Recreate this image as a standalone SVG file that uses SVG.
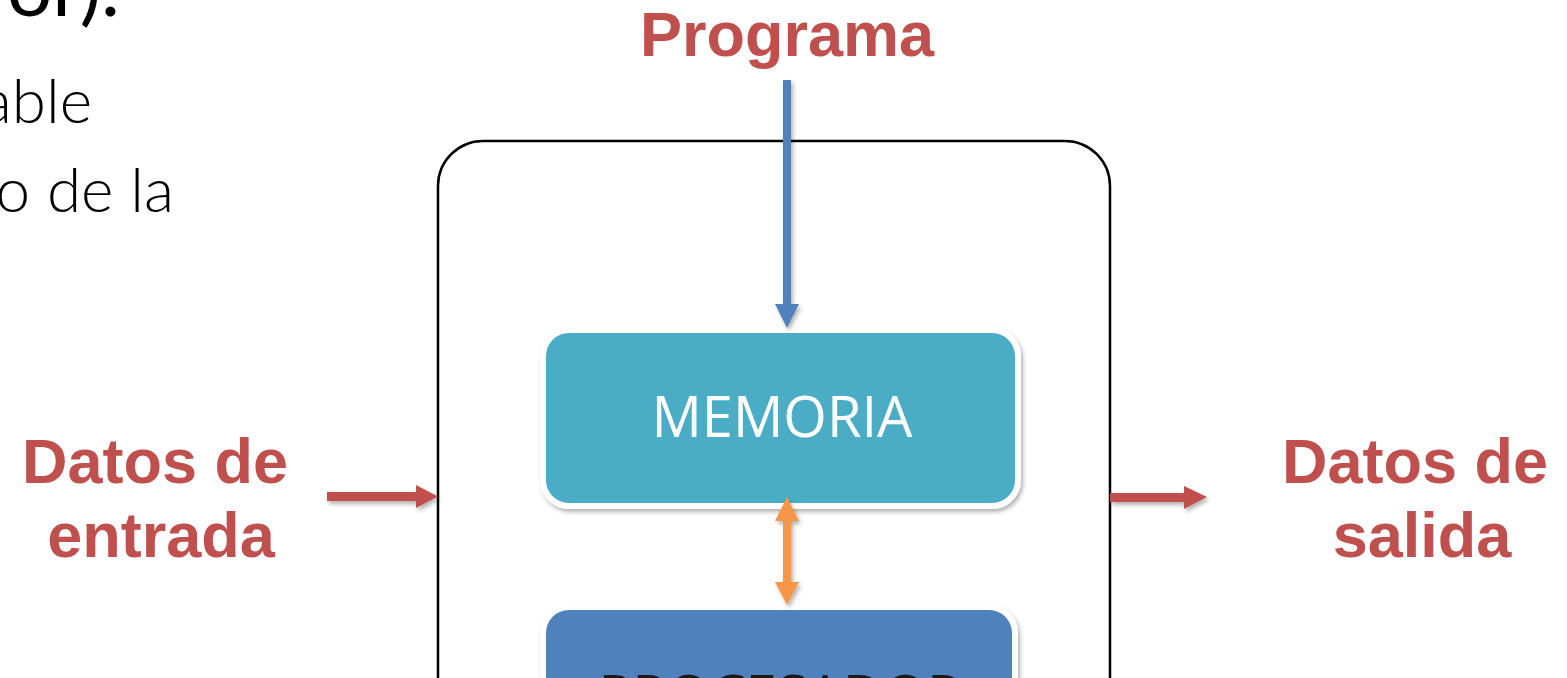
<svg xmlns="http://www.w3.org/2000/svg" width="1567" height="678" viewBox="0 0 1567 678">
<style>
.lbl{font-family:"Liberation Sans",Arial,sans-serif;font-weight:bold;font-size:63px;fill:#C0504D}
.body{font-family:Lato,"Open Sans",sans-serif;font-weight:300;font-size:62px;fill:#000}
.box{font-family:"Open Sans","Liberation Sans",sans-serif;font-size:56px;fill:#fff}
</style>
<defs>
<filter id="sh" x="-20%" y="-20%" width="140%" height="140%">
<feDropShadow dx="2" dy="3" stdDeviation="2" flood-color="#000" flood-opacity="0.3"/>
</filter>
</defs>
<rect width="1567" height="678" fill="#fff"/>
<g id="bg-text">
<text class="body" x="120" y="16" text-anchor="end" style="font-weight:400;font-size:80px">or).</text>
<text class="body" x="92" y="123" text-anchor="end">able</text>
<text class="body" x="174" y="212" text-anchor="end">o de la</text>
</g>
<g id="computer">
<rect x="438" y="141" width="672" height="620" rx="45" fill="none" stroke="#000" stroke-width="2.5"/>
</g>
<g id="memoria">
<rect x="543" y="330" width="475" height="176" rx="26" fill="#4BACC6" stroke="#fff" stroke-width="6" filter="url(#sh)"/>
<text class="box" x="782" y="437" text-anchor="middle">MEMORIA</text>
</g>
<g id="procesador">
<rect x="543" y="607" width="472" height="176" rx="26" fill="#4F81BD" stroke="#fff" stroke-width="6" filter="url(#sh)"/>
<text class="box" x="780" y="716" text-anchor="middle" style="fill:#1a1a1a">PROCESADOR</text>
</g>
<g id="programa">
<text class="lbl" x="787" y="56" text-anchor="middle">Programa</text>
</g>
<g id="entrada">
<text class="lbl" x="155" y="483" text-anchor="middle">Datos de</text>
<text class="lbl" x="161" y="557" text-anchor="middle">entrada</text>
</g>
<g id="salida">
<text class="lbl" x="1415" y="483" text-anchor="middle">Datos de</text>
<text class="lbl" x="1422" y="557" text-anchor="middle">salida</text>
</g>
<g id="connectors" filter="url(#sh)">
<polygon fill="#4F81BD" points="783,80 791,80 791,304 799,304 787,328 775,304 783,304"/>
<polygon fill="#F79646" points="787,497 799,521 791,521 791,582 799,582 787,605 775,582 783,582 783,521 775,521"/>
<polygon fill="#C0504D" points="327,492 416,492 416,485 438,496.5 416,508 416,501 327,501"/>
<polygon fill="#C0504D" points="1110,493 1184,493 1184,486 1207,497 1184,509 1184,502 1110,502"/>
</g>
</svg>
